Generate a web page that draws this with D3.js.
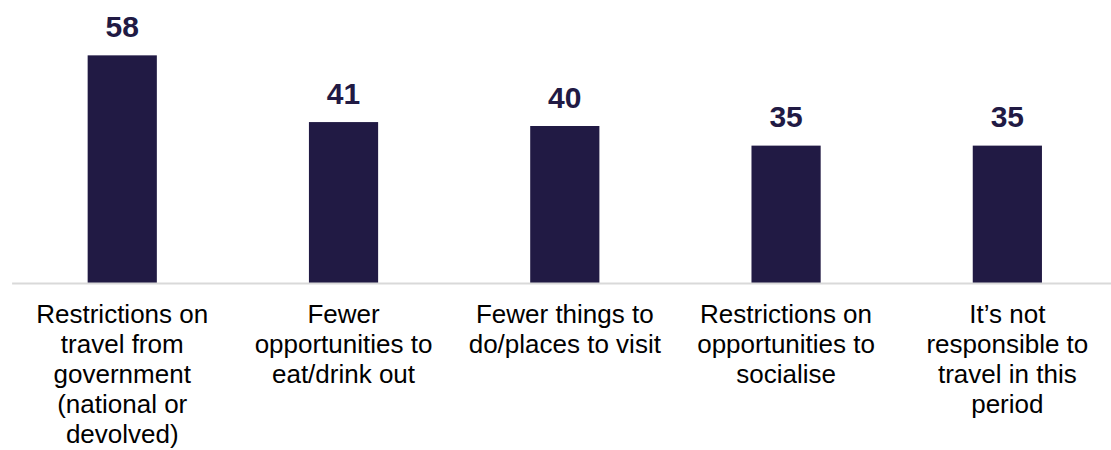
<!DOCTYPE html>
<html>
<head>
<meta charset="utf-8">
<script src="https://cdn.jsdelivr.net/npm/d3@7/dist/d3.min.js"></script>
<style>
  html, body { margin: 0; padding: 0; background: #ffffff; }
  svg { display: block; }
</style>
</head>
<body>
<svg id="chart" width="1111" height="450"></svg>
<script>
// Reasons for not travelling (%)
const categories = ["gov", "eat", "things", "social", "resp"];
const values = [58, 41, 40, 35, 35];
const tickLabels = [
  ["Restrictions on", "travel from", "government", "(national or", "devolved)"],
  ["Fewer", "opportunities to", "eat/drink out"],
  ["Fewer things to", "do/places to visit"],
  ["Restrictions on", "opportunities to", "socialise"],
  ["It\u2019s not", "responsible to", "travel in this", "period"]
];

const W = 1111, H = 450;
const baseY = 283;
const barColor = "#211a44";
const font = "'Liberation Sans', Arial, Helvetica, sans-serif";

const svg = d3.select("#chart");

const x = d3.scaleBand()
  .domain(categories)
  .range([11.6, 1118])
  .paddingInner(0.6873)
  .paddingOuter(0.3437);

const y = d3.scaleLinear()
  .domain([0, 60])
  .range([baseY, baseY - 60 * 3.925]);

// Bars
svg.append("g")
  .selectAll("rect")
  .data(values)
  .join("rect")
  .attr("x", (d, i) => x(categories[i]))
  .attr("y", d => y(d))
  .attr("width", x.bandwidth())
  .attr("height", d => y(0) - y(d))
  .attr("fill", barColor);

// Baseline axis
const axis = svg.append("g")
  .attr("transform", `translate(0,${baseY})`)
  .call(d3.axisBottom(x).tickSize(0).tickFormat(""));
axis.select(".domain").attr("stroke", "#d9d9d9").attr("stroke-width", 2);

// Value labels
svg.append("g")
  .selectAll("text")
  .data(values)
  .join("text")
  .attr("x", (d, i) => x(categories[i]) + x.bandwidth() / 2)
  .attr("y", d => y(d) - 18.5)
  .attr("text-anchor", "middle")
  .attr("font-family", font)
  .attr("font-weight", "bold")
  .attr("font-size", 30)
  .attr("fill", barColor)
  .text(d => d);

// Category labels
const lineH = 30;
const labels = svg.append("g")
  .selectAll("text")
  .data(tickLabels)
  .join("text")
  .attr("text-anchor", "middle")
  .attr("font-family", font)
  .attr("font-size", 26)
  .attr("fill", "#000000");

labels.each(function (lines, i) {
  const cx = x(categories[i]) + x.bandwidth() / 2;
  d3.select(this).selectAll("tspan")
    .data(lines)
    .join("tspan")
    .attr("x", cx)
    .attr("y", (l, j) => 322.5 + j * lineH)
    .text(l => l);
});
</script>
</body>
</html>
